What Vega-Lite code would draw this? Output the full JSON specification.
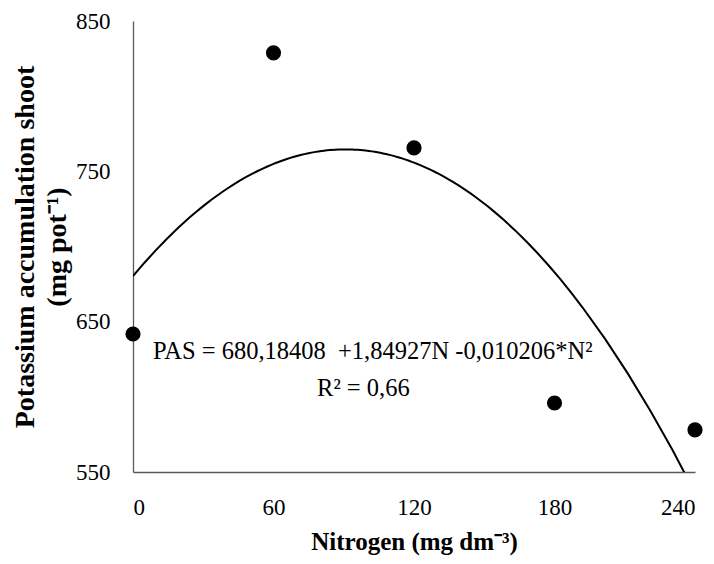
{
  "$schema": "https://vega.github.io/schema/vega-lite/v6.json",
  "width": 562,
  "height": 451,
  "autosize": {"type": "none"},
  "padding": {"left": 133, "top": 21, "right": 19, "bottom": 92},
  "background": "white",
  "config": {
    "view": {"stroke": null},
    "font": "Liberation Serif",
    "axis": {
      "grid": false,
      "ticks": false,
      "domainColor": "#595959",
      "domainWidth": 1.3,
      "labelFont": "Liberation Serif",
      "labelFontSize": 23,
      "labelColor": "black",
      "titleFont": "Liberation Serif",
      "titleFontWeight": "bold",
      "titleColor": "black"
    }
  },
  "datasets": {
    "obs": [
      {"N": 0, "K": 641.8},
      {"N": 60, "K": 828.8},
      {"N": 120, "K": 765.6},
      {"N": 180, "K": 595.9},
      {"N": 240, "K": 578.0}
    ],
    "notes": [
      {"N": 8.5, "K": 629.8, "label": "PAS = 680,18408 \u00a0+1,84927N -0,010206*N²"},
      {"N": 78.6, "K": 605.0, "label": "R² = 0,66"}
    ]
  },
  "layer": [
    {
      "data": {"name": "obs"},
      "transform": [
        {"regression": "K", "on": "N", "method": "poly", "order": 2, "extent": [0, 240]}
      ],
      "mark": {"type": "line", "color": "black", "strokeWidth": 2, "clip": true},
      "encoding": {
        "x": {"field": "N", "type": "quantitative"},
        "y": {"field": "K", "type": "quantitative"}
      }
    },
    {
      "data": {"name": "obs"},
      "mark": {"type": "point", "filled": true, "color": "black", "size": 230, "opacity": 1},
      "encoding": {
        "x": {
          "field": "N",
          "type": "quantitative",
          "scale": {"domain": [0, 240], "nice": false},
          "axis": {"values": [0, 60, 120, 180, 240], "labelPadding": 24, "title": "Nitrogen (mg dm⁻³)", "titleFontSize": 25, "titlePadding": 10}
        },
        "y": {
          "field": "K",
          "type": "quantitative",
          "scale": {"domain": [550, 850], "nice": false, "zero": false},
          "axis": {"values": [550, 650, 750, 850], "labelPadding": 23, "title": ["Potassium accumulation shoot", "(mg pot⁻¹)"], "titleFontSize": 28, "titleLineHeight": 32, "titlePadding": 4}
        }
      }
    },
    {
      "data": {"name": "notes"},
      "mark": {"type": "text", "font": "Liberation Serif", "fontSize": 24.5, "color": "black", "align": "left", "baseline": "middle"},
      "encoding": {
        "x": {"field": "N", "type": "quantitative"},
        "y": {"field": "K", "type": "quantitative"},
        "text": {"field": "label"}
      }
    }
  ]
}
